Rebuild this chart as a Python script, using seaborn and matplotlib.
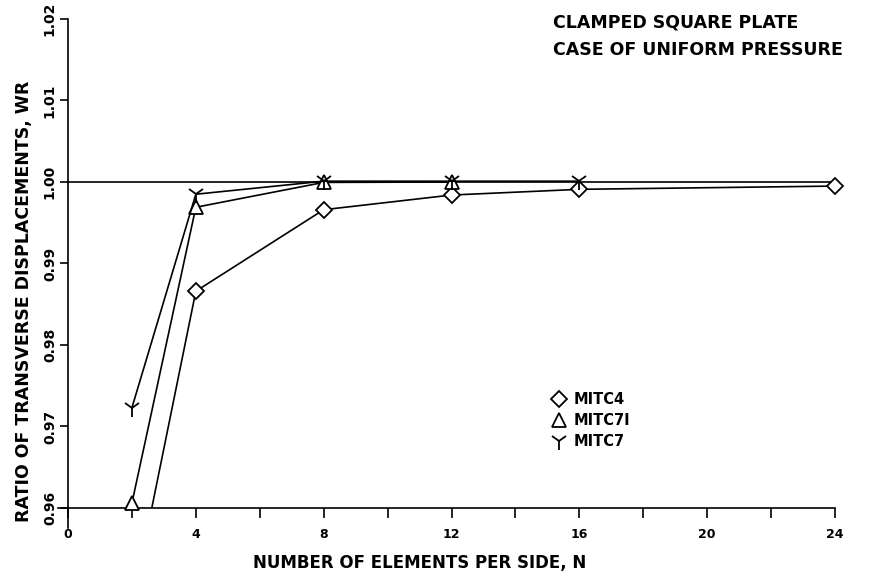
import numpy as np
import pandas as pd
import seaborn as sns
import matplotlib
matplotlib.use("Agg")
import matplotlib.pyplot as plt
from matplotlib.lines import Line2D

# Convergence of the centre deflection ratio for a clamped square plate
n_mitc4 = [2, 4, 8, 12, 16, 24]
wr_mitc4 = [0.9480, 0.9866, 0.9966, 0.9984, 0.9991, 0.9995]

n_mitc7i = [2, 4, 8, 12]
wr_mitc7i = [0.9606, 0.9969, 0.99995, 1.0000]

n_mitc7 = [2, 4, 8, 12, 16]
wr_mitc7 = [0.9723, 0.9985, 1.0001, 1.0001, 1.0001]

x_ticks = [0, 4, 8, 12, 16, 20, 24]
y_ticks = [0.96, 0.97, 0.98, 0.99, 1.00, 1.01, 1.02]
y_tick_labels = ["0.96", "0.97", "0.98", "0.99", "1.00", "1.01", "1.02"]

sns.set_theme(style="ticks")
plt.rcParams["font.family"] = ["DejaVu Sans"]
plt.rcParams["font.weight"] = "bold"
for key in ("text.color", "axes.labelcolor", "xtick.color", "ytick.color",
            "axes.edgecolor"):
    plt.rcParams[key] = "black"

W, H = 871, 575
fig = plt.figure(figsize=(W / 100, H / 100), dpi=100)
ax = fig.add_axes([68 / W, 1 - 508 / H, (835 - 68) / W, (508 - 19) / H])

Y_MIN, Y_MAX = 0.96, 1.02
df4 = pd.DataFrame({"N": n_mitc4, "WR": wr_mitc4})
df7i = pd.DataFrame({"N": n_mitc7i, "WR": wr_mitc7i})
df7 = pd.DataFrame({"N": n_mitc7, "WR": wr_mitc7})

lw = 1.2
mew = 1.3
style4 = dict(marker="D", markersize=8, markerfacecolor="white",
              markeredgecolor="black", markeredgewidth=mew)
style7i = dict(marker="^", markersize=10, markerfacecolor="white",
               markeredgecolor="black", markeredgewidth=mew)
style7 = dict(marker="1", markersize=13, markeredgecolor="black",
              markeredgewidth=mew)

# reference line WR = 1
ax.plot([0, 24], [1.0, 1.0], color="black", lw=lw, zorder=1)

# MITC4: line clipped to the axes, markers for the points inside the range
sns.lineplot(data=df4, x="N", y="WR", ax=ax, color="black", lw=lw,
             legend=False, zorder=2)
sns.lineplot(data=df4[df4["WR"] >= Y_MIN], x="N", y="WR", ax=ax,
             color="black", linestyle="", legend=False, clip_on=False,
             zorder=3, **style4)
sns.lineplot(data=df7i, x="N", y="WR", ax=ax, color="black", lw=lw,
             legend=False, clip_on=False, zorder=4, **style7i)
sns.lineplot(data=df7, x="N", y="WR", ax=ax, color="black", lw=lw,
             legend=False, clip_on=False, zorder=5, **style7)

ax.set_xlim(0, 24)
ax.set_ylim(Y_MIN, Y_MAX)
ax.set_xticks(x_ticks)
ax.set_xticks(np.arange(2, 24, 4), minor=True)
ax.set_xticklabels([str(t) for t in x_ticks], fontsize=9, fontweight="bold")
ax.set_yticks(y_ticks)
ax.set_yticklabels(y_tick_labels, rotation=90, va="center",
                   fontsize=10, fontweight="bold")

ax.tick_params(axis="x", which="both", direction="out", length=7.5,
               width=1.2, color="black", pad=7)
ax.tick_params(axis="y", direction="out", length=6, width=1.2,
               color="black", pad=2)

for side in ("top", "right"):
    ax.spines[side].set_visible(False)
for side in ("left", "bottom"):
    ax.spines[side].set_color("black")
    ax.spines[side].set_linewidth(1.2)
# axis lines cross slightly at the origin
ax.spines["left"].set_bounds(0.9575, Y_MAX)
ax.spines["bottom"].set_bounds(-0.3, 24)

ax.set_xlabel("NUMBER OF ELEMENTS PER SIDE, N", fontsize=12,
              fontweight="bold")
ax.xaxis.set_label_coords((420 - 68) / 767, -(554 - 508) / 489)
ax.set_ylabel("RATIO OF TRANSVERSE DISPLACEMENTS, WR", fontsize=12.5,
              fontweight="bold")
ax.yaxis.set_label_coords((33 - 68) / 767, (508 - 301) / 489)
ax.grid(False)

handles = [
    Line2D([], [], ls="none", label="MITC4", **style4),
    Line2D([], [], ls="none", label="MITC7I", **style7i),
    Line2D([], [], ls="none", label="MITC7", **style7),
]
ax.legend(handles=handles, loc="upper left",
          bbox_to_anchor=((553 - 68) / 767, (508 - 392) / 489),
          frameon=False, handlelength=0.8, handletextpad=0.6,
          borderpad=0, borderaxespad=0, labelspacing=0.42,
          prop={"size": 10.5, "weight": "bold"})

fig.text(553 / W, 1 - 23 / H, "CLAMPED SQUARE PLATE", fontsize=12.5,
         fontweight="bold", ha="left", va="center")
fig.text(553 / W, 1 - 50 / H, "CASE OF UNIFORM PRESSURE", fontsize=12.5,
         fontweight="bold", ha="left", va="center")

fig.savefig("out.png", dpi=100, facecolor="white")
